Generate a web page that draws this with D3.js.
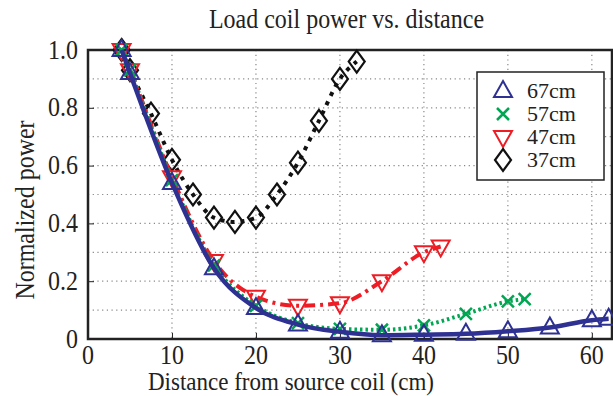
<!DOCTYPE html>
<html><head><meta charset="utf-8">
<script src="https://cdn.jsdelivr.net/npm/d3@7"></script>
<style>body{margin:0;background:#fff}svg{display:block}svg text{font-family:"Liberation Serif",serif !important;fill:#222}</style>
</head><body><svg id="c" width="613" height="396"></svg>
<script>
const xTicks = [0,10,20,30,40,50,60];
const yTicks = [0,0.2,0.4,0.6,0.8,1.0];
const yTickLabels = ["0","0.2","0.4","0.6","0.8","1.0"];
const yGrid = [0.1,0.2,0.3,0.4,0.5,0.6,0.7,0.8,0.9];
const seriesNames = ["67cm","57cm","47cm","37cm"];

const x67 = [4,5,10,15,20,25,30,35,40,45,50,55,60,62];
const y67 = [1.0,0.92,0.54,0.245,0.107,0.05,0.025,0.013,0.015,0.018,0.027,0.04,0.065,0.07];
const x57 = [4,5,10,15,20,25,30,35,40,45,50,52];
const y57 = [1.0,0.93,0.55,0.255,0.115,0.055,0.035,0.032,0.047,0.087,0.13,0.138];
const x47 = [4,5,10,15,20,25,30,35,40,42];
const y47 = [1.0,0.93,0.56,0.27,0.146,0.115,0.124,0.2,0.3,0.32];
const x37 = [4,5,7.5,10,12.5,15,17.5,20,22.5,25,27.5,30,32];
const y37 = [1.0,0.93,0.78,0.62,0.50,0.42,0.405,0.42,0.50,0.61,0.755,0.90,0.96];

const FONT = "Liberation Serif";
const L=88,R=612,T=50,B=339;
const svg=d3.select("#c");
const xs=d3.scaleLinear().domain([0,62.4]).range([L,R]);
const ys=d3.scaleLinear().domain([0,1]).range([B,T]);

// stretched text helper
function stext(parent, x, y, str, size, anchor, sy, rot, sx){
  const gg=parent.append("g").attr("transform",`translate(${x},${y})${rot?` rotate(${rot})`:""} scale(${sx||1},${sy})`);
  return gg.append("text").attr("x",0).attr("y",0).attr("text-anchor",anchor)
    .attr("font-family",FONT).style("font-size",size+"px").attr("fill","#222").text(str);
}

// grid
const g=svg.append("g");
g.selectAll(".vg").data(xTicks.filter(d=>d>0)).enter().append("line")
 .attr("x1",d=>xs(d)).attr("x2",d=>xs(d)).attr("y1",T).attr("y2",B)
 .attr("stroke","#888").attr("stroke-width",1.2).attr("stroke-dasharray","1.2,3.5");
g.selectAll(".hg").data(yGrid).enter().append("line")
 .attr("x1",L).attr("x2",R).attr("y1",d=>ys(d)).attr("y2",d=>ys(d))
 .attr("stroke","#888").attr("stroke-width",1.2).attr("stroke-dasharray","1.2,3.5");

// axes with inward ticks
const xa=d3.axisBottom(xs).tickValues(xTicks).tickSize(-6).tickFormat("");
const xg=svg.append("g").attr("transform",`translate(0,${B})`).call(xa);
xg.select(".domain").remove();
xg.selectAll("line").attr("stroke","#222").attr("stroke-width",1);
const ya=d3.axisLeft(ys).tickValues(yTicks).tickSize(-6).tickFormat("");
const yg=svg.append("g").attr("transform",`translate(${L},0)`).call(ya);
yg.select(".domain").remove();
yg.selectAll("line").attr("stroke","#222").attr("stroke-width",1);

const tl=svg.append("g");
xTicks.forEach(t=>stext(tl, xs(t), 364, String(t), 24, "middle", 1.12));
yTicks.forEach((t,i)=>stext(tl, L-10, ys(t)+8.5, yTickLabels[i], 24, "end", 1.12));

// frame
svg.append("rect").attr("x",L).attr("y",T).attr("width",R-L).attr("height",B-T)
 .attr("fill","none").attr("stroke","#222").attr("stroke-width",2.5);

// series
const series=[
 {name:seriesNames[3],xs:x37,ys:y37,color:"#111",dash:"4,6",sym:"diamond"},
 {name:seriesNames[2],xs:x47,ys:y47,color:"#ee1c25",dash:"11,5,3,5",sym:"tdown"},
 {name:seriesNames[1],xs:x57,ys:y57,color:"#00a651",dash:"2.5,3",sym:"cross"},
 {name:seriesNames[0],xs:x67,ys:y67,color:"#2e3192",dash:null,sym:"tup"}
];
const line=d3.line().x(d=>xs(d[0])).y(d=>ys(d[1])).curve(d3.curveMonotoneX);
function marker(sel,sym,color,cx,cy){
  if(sym==="tup"){
    sel.append("path").attr("d",`M${cx},${cy-10}L${cx+9},${cy+6}L${cx-9},${cy+6}Z`).attr("fill","none").attr("stroke",color).attr("stroke-width",2);
  } else if(sym==="tdown"){
    sel.append("path").attr("d",`M${cx},${cy+10}L${cx+9},${cy-6}L${cx-9},${cy-6}Z`).attr("fill","none").attr("stroke",color).attr("stroke-width",2);
  } else if(sym==="diamond"){
    sel.append("path").attr("d",`M${cx},${cy-11}L${cx+8},${cy}L${cx},${cy+11}L${cx-8},${cy}Z`).attr("fill","none").attr("stroke",color).attr("stroke-width",2.2);
  } else {
    sel.append("path").attr("d",`M${cx-6},${cy-6}L${cx+6},${cy+6}M${cx+6},${cy-6}L${cx-6},${cy+6}`).attr("fill","none").attr("stroke",color).attr("stroke-width",2.5);
  }
}
series.forEach(s=>{
  const pts=s.xs.map((v,i)=>[v,s.ys[i]]);
  const gg=svg.append("g");
  pts.forEach(p=>marker(gg,s.sym,s.color,xs(p[0]),ys(p[1])));
  gg.append("path").datum(pts).attr("d",line).attr("fill","none").attr("stroke",s.color)
    .attr("stroke-width",s.sym==="tup"?4.5:4).attr("stroke-dasharray",s.dash);
});

// legend
const lg=svg.append("g");
lg.append("rect").attr("x",477).attr("y",72).attr("width",127).attr("height",108).attr("fill","#fff").attr("stroke","#222").attr("stroke-width",1.5);
const legItems=[series[3],series[2],series[1],series[0]];
const legY=[91,114,137,160];
legItems.forEach((s,i)=>{
  marker(lg,s.sym,s.color,503,legY[i]);
  stext(lg, 527, legY[i]+6.5, s.name, 20, "start", 1, 0, 1.1);
});

// titles
stext(svg, 346.5, 28, "Load coil power vs. distance", 24, "middle", 1.12);
stext(svg, 291, 390, "Distance from source coil (cm)", 23, "middle", 1.06);
stext(svg, 34, 210, "Normalized power", 24, "middle", 1.1, -90);
</script></body></html>
